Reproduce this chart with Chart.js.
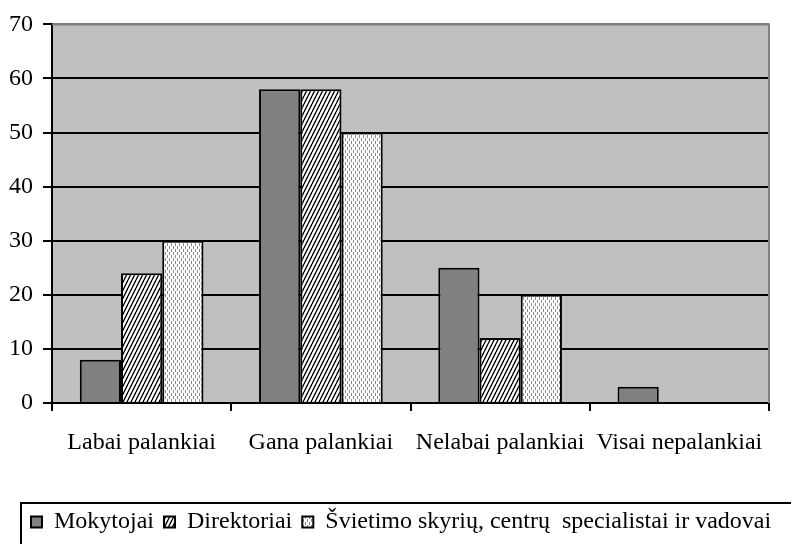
<!DOCTYPE html>
<html>
<head>
<meta charset="utf-8">
<script src="https://cdn.jsdelivr.net/npm/chart.js@4"></script>
<style>
  html, body { margin: 0; padding: 0; background: #fff; }
  #wrap { width: 791px; height: 544px; }
</style>
</head>
<body>
<div id="wrap"><canvas id="chart" width="791" height="544"></canvas></div>
<script>
// duomenys
const categories = ["Labai palankiai", "Gana palankiai", "Nelabai palankiai", "Visai nepalankiai"];
const seriesNames = ["Mokytojai", "Direktoriai", "Švietimo skyrių, centrų  specialistai ir vadovai"];
const mokytojai = [8, 58, 25, 3];
const direktoriai = [24, 58, 12, 0];
const svietimo = [30, 50, 20, 0];
const yTicks = [0, 10, 20, 30, 40, 50, 60, 70];

// rastai (pattern) stulpeliams
function hatchPattern() {
  const c = document.createElement("canvas");
  c.width = 4; c.height = 8;
  const g = c.getContext("2d");
  g.fillStyle = "#fff";
  g.fillRect(0, 0, 4, 8);
  g.strokeStyle = "#000";
  g.lineWidth = 1.4;
  [-4, 0, 4].forEach(function (o) {
    g.beginPath();
    g.moveTo(o, 8);
    g.lineTo(o + 4, 0);
    g.stroke();
  });
  return g.createPattern(c, "repeat");
}

function dotPattern() {
  const c = document.createElement("canvas");
  c.width = 4; c.height = 6;
  const g = c.getContext("2d");
  g.fillStyle = "#fff";
  g.fillRect(0, 0, 4, 6);
  g.fillStyle = "#8a8a8a";
  g.fillRect(1, 0, 1, 3);
  g.fillRect(3, 3, 1, 3);
  return g.createPattern(c, "repeat");
}

// pilkas fonas ir rėmeliai
const plotBackground = {
  id: "plotBackground",
  afterLayout(chart) {
    // legenda pradedama šiek tiek toliau nuo kairio krašto
    chart.legend.left = 21;
  },
  beforeDraw(chart) {
    const a = chart.chartArea, ctx = chart.ctx;
    ctx.save();
    ctx.fillStyle = "#c0c0c0";
    ctx.fillRect(a.left, a.top, a.right - a.left, a.bottom - a.top);
    ctx.restore();
  },
  afterDatasetsDraw(chart) {
    const a = chart.chartArea, ctx = chart.ctx;
    ctx.save();
    ctx.strokeStyle = "#808080";
    ctx.lineWidth = 2;
    ctx.beginPath();
    ctx.moveTo(a.left, a.top);
    ctx.lineTo(a.right, a.top);
    ctx.lineTo(a.right, a.bottom);
    ctx.stroke();
    ctx.restore();
  },
  afterDraw(chart) {
    const l = chart.legend, ctx = chart.ctx;
    ctx.save();
    ctx.strokeStyle = "#000";
    ctx.lineWidth = 2;
    ctx.strokeRect(l.left, l.top + 3, 900, 200);
    ctx.restore();
  }
};

Chart.defaults.font.family = "'Liberation Serif', 'Times New Roman', serif";
Chart.defaults.font.size = 24;
Chart.defaults.color = "#000";

const ctx = document.getElementById("chart").getContext("2d");
const fills = ["#808080", hatchPattern(), dotPattern()];
const values = [mokytojai, direktoriai, svietimo];

new Chart(ctx, {
  type: "bar",
  data: {
    labels: categories,
    datasets: seriesNames.map(function (name, i) {
      return {
        label: name,
        data: values[i],
        backgroundColor: fills[i],
        borderColor: "#000",
        borderWidth: 2,
        barPercentage: 1,
        categoryPercentage: 0.69
      };
    })
  },
  options: {
    responsive: false,
    animation: false,
    layout: { padding: { left: 4, top: 24, right: 0, bottom: 0 } },
    scales: {
      y: {
        min: 0,
        max: 70,
        afterFit(scale) { scale.width = 48; },
        afterBuildTicks(scale) { scale.ticks = yTicks.map(v => ({ value: v })); },
        ticks: { padding: 10 },
        grid: {
          color: c => (c.tick && c.tick.value === 70 ? "#808080" : "#000"),
          lineWidth: 2,
          tickLength: 9,
          tickColor: "#000"
        },
        border: { color: "#000", width: 2 }
      },
      // tuščia ašis dešinėje – tik tarpas iki krašto
      yRight: {
        position: "right",
        min: 0,
        max: 70,
        afterFit(scale) { scale.width = 22; },
        ticks: { display: false },
        grid: { display: false },
        border: { display: false }
      },
      x: {
        afterFit(scale) { scale.height = 97; },
        ticks: { padding: 17 },
        grid: {
          offset: true,
          drawOnChartArea: false,
          tickLength: 8,
          color: "#000",
          lineWidth: 2
        },
        border: { color: "#000", width: 2 }
      }
    },
    plugins: {
      legend: {
        position: "bottom",
        align: "start",
        labels: {
          boxWidth: 11,
          boxHeight: 11,
          padding: 10
        }
      },
      tooltip: { enabled: false }
    }
  },
  plugins: [plotBackground]
});
</script>
</body>
</html>
